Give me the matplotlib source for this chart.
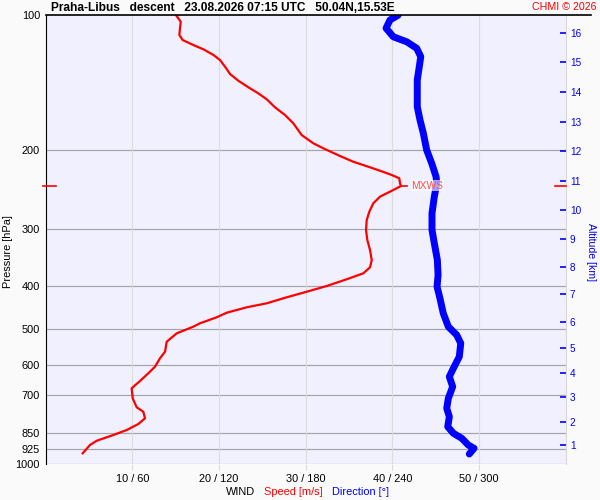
import matplotlib
matplotlib.use("Agg")
import matplotlib.pyplot as plt
from matplotlib.lines import Line2D
from matplotlib.ticker import NullLocator

plt.rcParams['font.family'] = ['Liberation Sans', 'DejaVu Sans']

""" !!! Sounding data read from the chart !!!"""
# wind speed profile [hPa], [m/s]
speed_p = [100, 103.4, 106.9, 110.7, 113.6, 116.5, 119.1, 122.6, 125.8, 130.2,
           135.2, 139.9, 144.7, 149.3, 153.9, 160.4, 166.8, 174.1, 184.9, 192.9,
           197.9, 205.9, 212.0, 217.5, 222.0, 226.9, 230.8, 236.8, 240.0, 245.1,
           253.6, 262.4, 273.9, 285.9, 300.9, 316.7, 333.4, 350.9, 364.3, 375.7,
           387.4, 401.0, 412.9, 424.9, 438.2, 447.3, 459.8, 470.8, 485.5, 494.0,
           511.1, 533.6, 561.6, 580.9, 606.5, 627.4, 652.7, 677.5, 713.2, 746.9,
           764.0, 790.3, 813.7, 839.2, 861.0, 886.6, 906.2, 945.7]
speed_ms = [15.05, 15.59, 15.51, 15.43, 15.82, 17.04, 18.20, 19.35, 20.12, 20.70,
            21.28, 22.23, 23.39, 24.54, 25.51, 26.47, 27.62, 28.58, 29.55, 30.89,
            32.04, 33.97, 35.50, 37.23, 38.58, 39.93, 40.81, 40.89, 41.01, 40.12,
            38.58, 37.81, 37.35, 37.05, 36.97, 37.12, 37.43, 37.63, 37.43, 36.66,
            34.74, 32.43, 30.13, 27.82, 25.51, 23.20, 20.90, 19.74, 17.81, 17.04,
            15.13, 13.97, 13.78, 13.20, 12.62, 11.85, 10.89, 9.93, 10.05, 10.51,
            11.27, 11.47, 10.70, 9.36, 7.81, 5.90, 5.12, 4.28]

# wind direction profile [hPa], [deg]
dir_p = [100, 102.5, 106.9, 111.7, 114.6, 118.5, 123.7, 130.2, 139.4, 149.3,
         159.9, 171.2, 183.2, 199.6, 213.7, 228.9, 236.8, 253.6, 276.2, 300.9,
         322.1, 350.9, 379.0, 402.4, 427.1, 461.2, 494.0, 515.5, 537.9, 576.2,
         611.5, 638.4, 672.0, 713.2, 750.8, 783.8, 825.1, 853.5, 875.6, 906.2,
         921.7, 949.1]
dir_deg = [244.0, 238.4, 235.7, 240.7, 250.0, 256.9, 259.7, 258.7, 257.3, 257.3,
           257.3, 259.2, 261.5, 263.8, 267.3, 270.3, 270.8, 269.1, 267.5, 267.5,
           269.1, 271.2, 271.7, 271.0, 273.0, 275.3, 278.8, 284.6, 287.4, 286.4,
           282.3, 279.5, 281.8, 278.8, 277.7, 279.5, 278.4, 282.3, 288.1, 292.6,
           296.6, 293.3]

# max wind
mxws_p = 240
mxws_speed = 41.0

# axis ticks
p_ticks = [100, 200, 300, 400, 500, 600, 700, 850, 925, 1000]
wind_ticks = [10, 20, 30, 40, 50]
alt_km = [1, 2, 3, 4, 5, 6, 7, 8, 9, 10, 11, 12, 13, 14, 15, 16]
alt_p = [906.2, 806.6, 709.6, 627.4, 551.9, 481.5, 418.4, 364.3, 315.6, 271.6,
         233.7, 200.3, 172.7, 148.0, 127.3, 109.7]

""" !!! Figure !!!"""
fig = plt.figure(figsize=(6, 5), dpi=100, facecolor='#fafafa')
ax = fig.add_axes([0.076, 0.0716, 0.8667, 0.898])
ax.set_facecolor('#f0f0fe')

# direction is plotted on the speed axis: 60 m/s <-> 360 deg
dir_scaled = [d / 6.0 for d in dir_deg]

ax.set_yscale('log')
ax.set_ylim(1000, 100)
ax.set_xlim(0, 60)

# grid
for p in p_ticks[1:]:
    ax.axhline(p, color='#a4a4a4', lw=0.85, zorder=1)
for w in wind_ticks:
    ax.axvline(w, color='#dcdcdc', lw=0.8, zorder=1)

ax.plot(speed_ms, speed_p, color='#ff0000', lw=1.6, zorder=3)
ax.plot(dir_scaled, dir_p, color='#0000ff', lw=5.0, solid_capstyle='round',
        solid_joinstyle='round', zorder=4)

# max wind marker
ax.plot([mxws_speed, mxws_speed + 0.7], [mxws_p, mxws_p], color='#ff0000', lw=1.2, zorder=3)
ax.text(mxws_speed + 1.2, mxws_p, 'MXWS', color='#ff5050', fontsize=7.4, va='center',
        ha='left', zorder=5,
        bbox=dict(boxstyle='square,pad=0.05', fc='white', ec='none', alpha=0.65))
ax.plot([-0.005, 0.02], [mxws_p, mxws_p], color='#ff0000', lw=1.2, clip_on=False,
        transform=ax.get_yaxis_transform(), zorder=6)
ax.plot([0.979, 1.0], [mxws_p, mxws_p], color='#ff0000', lw=1.2, clip_on=False,
        transform=ax.get_yaxis_transform(), zorder=6)

# left axis
ax.set_yticks(p_ticks)
ax.set_yticklabels([str(p) for p in p_ticks])
ax.yaxis.set_minor_locator(NullLocator())
ax.tick_params(axis='y', length=0, pad=4, labelsize=7.9)

# bottom axis
ax.set_xticks(wind_ticks)
ax.set_xticklabels([f"{w} / {w * 6}" for w in wind_ticks])
ax.tick_params(axis='x', length=4, color='#dcdcdc', pad=3, labelsize=7.9)

ax.spines['left'].set_color('black')
ax.spines['top'].set_visible(False)
ax.spines['bottom'].set_visible(False)
ax.spines['right'].set_color('#d8d8d8')

# altitude axis
ax2 = ax.twinx()
ax2.set_yscale('log')
ax2.set_ylim(1000, 100)
ax2.set_yticks(alt_p)
ax2.set_yticklabels([str(a) for a in alt_km])
ax2.yaxis.set_minor_locator(NullLocator())
ax2.tick_params(axis='y', direction='in', length=4.3, width=1.2, color='#0000ff',
                labelcolor='#0000ff', pad=3, labelsize=7.2)
for s in ax2.spines.values():
    s.set_visible(False)

# top line
fig.add_artist(Line2D([0.076, 0.985], [0.9696, 0.9696], color='black', lw=1.2))

# texts
fig.text(51 / 600, 1 - 8 / 500, 'Praha-Libus   descent   23.08.2026 07:15 UTC   50.04N,15.53E',
         fontsize=8.6, fontweight='bold', ha='left', va='center')
fig.text(596 / 600, 1 - 7 / 500, 'CHMI © 2026', color='#ff0000', fontsize=7.7,
         ha='right', va='center')
fig.text(8 / 600, 1 - 252 / 500, 'Pressure [hPa]', rotation=90, fontsize=7.9,
         ha='center', va='center')
fig.text(591 / 600, 1 - 252 / 500, 'Altitude [km]', rotation=-90, fontsize=7.6,
         color='#0000ff', ha='center', va='center')
fig.text(226 / 600, 1 - 492 / 500, 'WIND', fontsize=7.9, ha='left', va='center')
fig.text(264 / 600, 1 - 492 / 500, 'Speed [m/s]', fontsize=7.9, color='#ff0000',
         ha='left', va='center')
fig.text(332 / 600, 1 - 492 / 500, 'Direction [°]', fontsize=7.9, color='#0000ff',
         ha='left', va='center')

fig.savefig('out.png', dpi=100, facecolor=fig.get_facecolor())
